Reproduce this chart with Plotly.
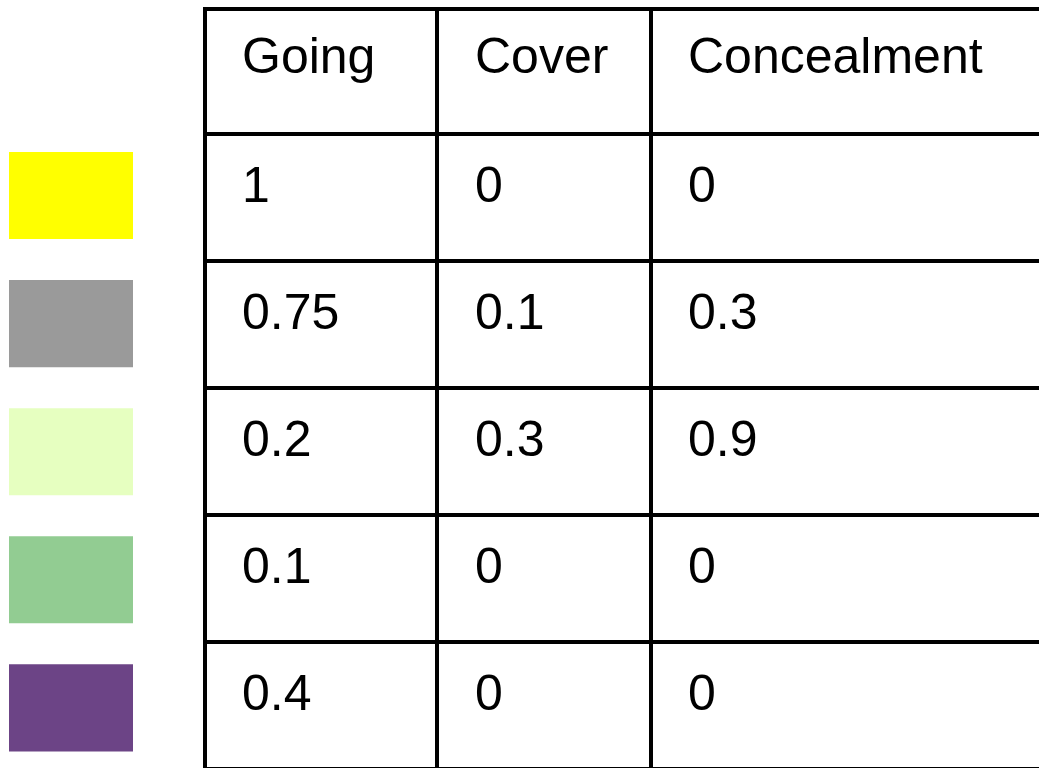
import plotly.graph_objects as go

# table contents
headers = ['Going', 'Cover', 'Concealment']
going = ['1', '0.75', '0.2', '0.1', '0.4']
cover = ['0', '0.1', '0.3', '0', '0']
concealment = ['0', '0.3', '0.9', '0', '0']

# colour key next to each row
row_keys = [0, 1, 2, 3, 4]
key_colors = ['#ffff00', '#9a9a9a', '#e6ffc0', '#92cc92', '#6c4486']

# figure is a bit bigger than the window so the right edge of the table runs off the page
FW, FH = 1080, 790
FONT = dict(family='Liberation Sans, Arial', size=50, color='black')

fig = go.Figure()

# grid only (lines + white cells)
gx, gy = 205, 9
fig.add_trace(go.Table(
    domain=dict(x=[gx / FW, 1], y=[0, 1 - gy / FH]),
    columnwidth=[232, 215, FW - gx - 447],
    header=dict(values=['', '', ''], height=125,
                fill_color='white', line=dict(color='black', width=4)),
    cells=dict(values=[[''] * 5] * 3, height=127,
               fill_color='white', line=dict(color='black', width=4)),
    hoverinfo='skip',
))

# text layer, inset from the grid to get the cell padding
tx, ty = 234, 27
fig.add_trace(go.Table(
    domain=dict(x=[tx / FW, 1], y=[0, 1 - ty / FH]),
    columnwidth=[233, 213, FW - tx - 446],
    header=dict(values=headers, align='left', height=129, font=FONT,
                fill_color='rgba(0,0,0,0)', line=dict(color='rgba(0,0,0,0)', width=0)),
    cells=dict(values=[going, cover, concealment], align='left', height=127, font=FONT,
               fill_color='rgba(0,0,0,0)', line=dict(color='rgba(0,0,0,0)', width=0)),
))

fig.add_trace(go.Bar(
    x=[1] * len(row_keys), y=row_keys, orientation='h',
    marker=dict(color=key_colors, line=dict(width=0)),
    showlegend=False, hoverinfo='skip',
))

fig.update_layout(
    width=FW, height=FH, margin=dict(l=0, r=0, t=0, b=0),
    paper_bgcolor='white', plot_bgcolor='white', bargap=0.32,
    xaxis=dict(domain=[9 / FW, 133 / FW], range=[0, 1], visible=False, fixedrange=True),
    yaxis=dict(domain=[1 - 771.9 / FH, 1 - 131.5 / FH], range=[4.5, -0.5],
               visible=False, fixedrange=True),
)

# page starts at the window's top-left corner, no scrollbars for the oversized figure
fig.write_html('out.html', config={'displayModeBar': False},
               post_script="document.body.style.margin = '0'; document.body.style.overflow = 'hidden';")
